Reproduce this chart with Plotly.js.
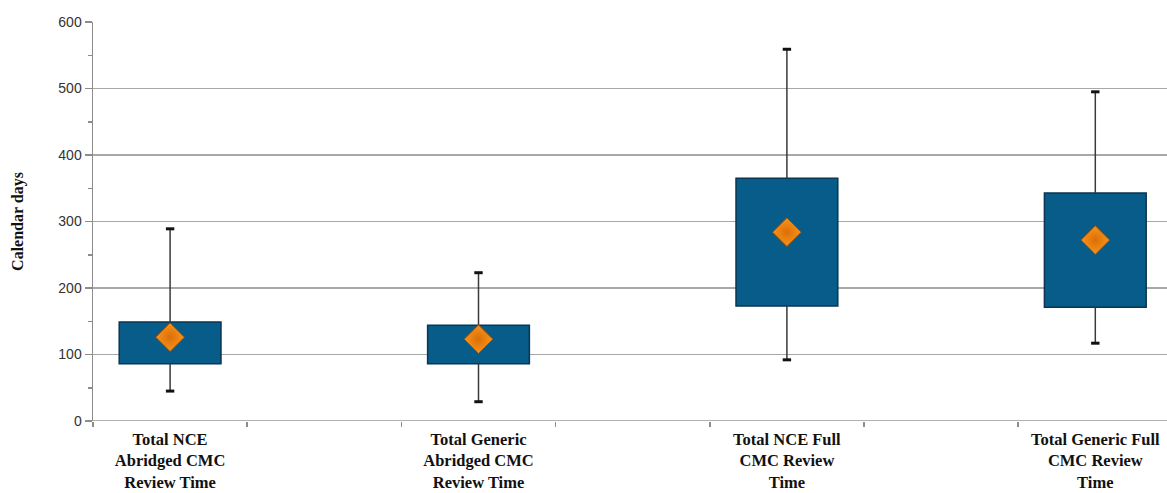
<!DOCTYPE html>
<html>
<head>
<meta charset="utf-8">
<script src="https://cdn.plot.ly/plotly-3.0.1.min.js"></script>
<style>html,body{margin:0;padding:0;background:#fff;overflow:hidden}</style>
</head>
<body>
<div id="chart" style="width:1167px;height:493px"></div>
<script>
// Category labels (boxes occupy every other category slot)
const categories = [
  "Total NCE<br>Abridged CMC<br>Review Time",
  "Total Generic<br>Abridged CMC<br>Review Time",
  "Total NCE Full<br>CMC Review<br>Time",
  "Total Generic Full<br>CMC Review<br>Time"
];
const slotIndex = [0, 2, 4, 6];
const minVals  = [45, 29, 92, 117];
const q1Vals   = [86, 86, 173, 171];
const q3Vals   = [149, 144, 365, 343];
const maxVals  = [289, 223, 559, 495];
const meanVals = [126, 123, 284, 272];
const yTicks = [0, 100, 200, 300, 400, 500, 600];

// whisker segments (below box and above box)
const wx = [], wy = [];
slotIndex.forEach((s, i) => {
  wx.push(s, s, null, s, s, null);
  wy.push(minVals[i], q1Vals[i], null, q3Vals[i], maxVals[i], null);
});

const traces = [
  {
    type: 'bar',
    x: slotIndex,
    base: q1Vals,
    y: q3Vals.map((v, i) => v - q1Vals[i]),
    width: 0.66,
    marker: {color: '#075C8A', line: {color: '#0B3550', width: 1.5}},
    hoverinfo: 'skip',
    showlegend: false
  },
  {
    type: 'scatter',
    mode: 'lines',
    x: wx, y: wy,
    line: {color: '#3A3A3A', width: 1.5},
    hoverinfo: 'skip',
    showlegend: false,
    connectgaps: false
  },
  {
    type: 'scatter',
    mode: 'markers',
    x: slotIndex.concat(slotIndex),
    y: minVals.concat(maxVals),
    marker: {symbol: 'line-ew', size: 6, line: {color: '#111', width: 3}},
    hoverinfo: 'skip',
    showlegend: false
  },
  {
    type: 'scatter',
    mode: 'markers',
    x: slotIndex,
    y: meanVals,
    marker: {symbol: 'diamond', size: 22, color: '#F7941E',
             gradient: {type: 'radial', color: '#DC6E05'},
             line: {color: '#A65000', width: 1}},
    hoverinfo: 'skip',
    showlegend: false
  }
];

const layout = {
  width: 1167, height: 493,
  margin: {l: 93, r: 0, t: 22, b: 72},
  paper_bgcolor: '#fff', plot_bgcolor: '#fff',
  bargap: 0,
  xaxis: {
    range: [-0.5, 6.465],
    tickmode: 'array',
    tickvals: slotIndex,
    ticktext: categories.map(c => '<b>' + c + '</b>'),
    ticks: 'outside', ticklen: 3, tickcolor: 'rgba(0,0,0,0)',
    showgrid: false,
    zeroline: false,
    showline: false,
    tickfont: {family: 'Liberation Serif, Times New Roman, serif', size: 16.5, color: '#111'},
    minor: {tickmode: 'array', tickvals: [-0.5, 0.5, 1.5, 2.5, 3.5, 4.5, 5.5, 6.5],
            ticks: 'outside', ticklen: 5, tickcolor: '#8C8C8C', tickwidth: 1.5, showgrid: false}
  },
  yaxis: {
    range: [0, 600],
    tickmode: 'array',
    tickvals: yTicks,
    ticks: 'outside', ticklen: 7, tickcolor: '#8C8C8C', tickwidth: 1.5,
    showgrid: true, gridcolor: '#A8A8A8', gridwidth: 1.5,
    zeroline: false,
    showline: true, linecolor: '#8C8C8C', linewidth: 1.5,
    tickfont: {family: 'Liberation Sans, Arial, sans-serif', size: 14, color: '#333'},
    minor: {dtick: 50, tick0: 0, ticks: 'outside', ticklen: 4, tickcolor: '#8C8C8C', tickwidth: 1.5, showgrid: false},
    title: {text: '<b>Calendar days</b>', standoff: 30,
            font: {family: 'Liberation Serif, Times New Roman, serif', size: 16, color: '#111'}}
  },
  shapes: [
    {type: 'line', xref: 'paper', yref: 'y', x0: 0, x1: 1, y0: 0, y1: 0,
     line: {color: '#9A9A9A', width: 1.5}, layer: 'above'}
  ]
};

Plotly.newPlot('chart', traces, layout, {displayModeBar: false, staticPlot: true});
</script>
</body>
</html>
